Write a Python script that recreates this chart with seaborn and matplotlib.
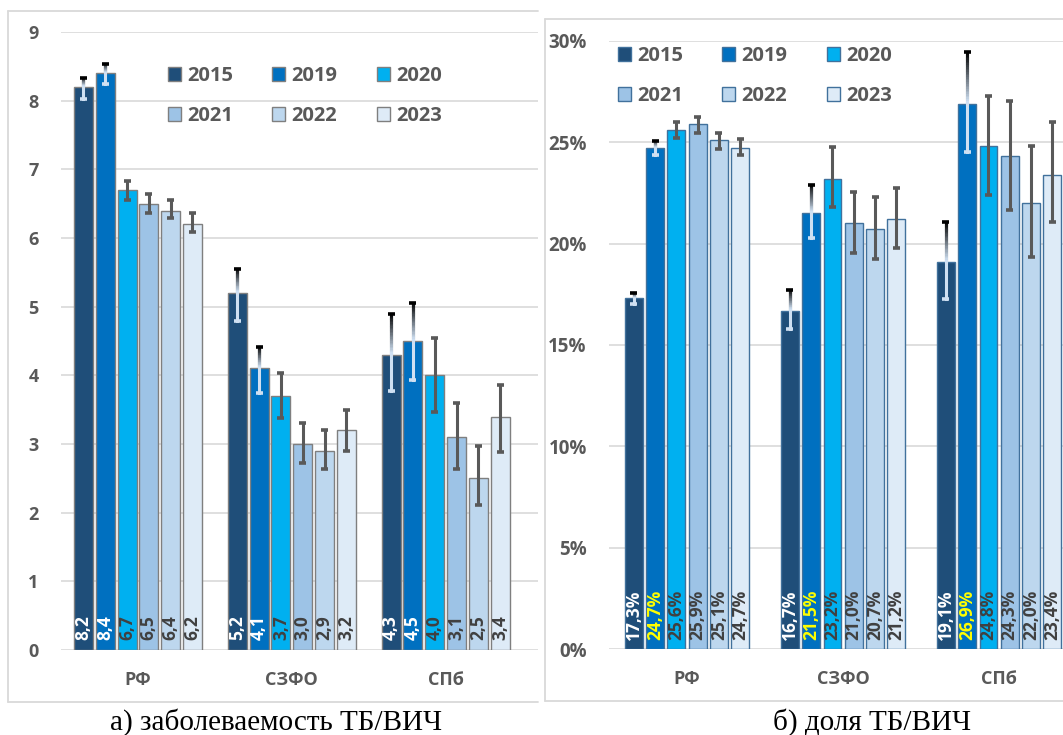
import numpy as np
import pandas as pd
import matplotlib
matplotlib.use("Agg")
import matplotlib.pyplot as plt
import seaborn as sns
from matplotlib import font_manager as fm
from matplotlib.collections import LineCollection
from matplotlib.lines import Line2D
from matplotlib.patches import Patch
from matplotlib.colors import to_rgb

# ---------------- data ----------------
regions = ["РФ", "СЗФО", "СПб"]
years = ["2015", "2019", "2020", "2021", "2022", "2023"]
year_colors = ["#1f4e79", "#0070c0", "#00b0f0", "#9dc3e6", "#bdd7ee", "#deebf7"]

# a) TB/HIV incidence, per 100 000
inc_rf = [8.2, 8.4, 6.7, 6.5, 6.4, 6.2]
inc_szfo = [5.2, 4.1, 3.7, 3.0, 2.9, 3.2]
inc_spb = [4.3, 4.5, 4.0, 3.1, 2.5, 3.4]
inc_lo_rf = [8.03, 8.25, 6.56, 6.37, 6.29, 6.09]
inc_hi_rf = [8.33, 8.54, 6.83, 6.64, 6.56, 6.37]
inc_lo_szfo = [4.79, 3.74, 3.38, 2.72, 2.63, 2.90]
inc_hi_szfo = [5.55, 4.41, 4.04, 3.30, 3.21, 3.49]
inc_lo_spb = [3.77, 3.93, 3.47, 2.63, 2.11, 2.89]
inc_hi_spb = [4.90, 5.06, 4.55, 3.59, 2.97, 3.86]
inc_ticks = [0, 1, 2, 3, 4, 5, 6, 7, 8, 9]

# b) TB/HIV share, %
share_rf = [17.3, 24.7, 25.6, 25.9, 25.1, 24.7]
share_szfo = [16.7, 21.5, 23.2, 21.0, 20.7, 21.2]
share_spb = [19.1, 26.9, 24.8, 24.3, 22.0, 23.4]
share_lo_rf = [17.01, 24.36, 25.18, 25.47, 24.68, 24.36]
share_hi_rf = [17.55, 25.08, 25.97, 26.26, 25.44, 25.15]
share_lo_szfo = [15.81, 20.28, 21.79, 19.53, 19.26, 19.80]
share_hi_szfo = [17.72, 22.90, 24.75, 22.52, 22.29, 22.75]
share_lo_spb = [17.26, 24.50, 22.39, 21.66, 19.36, 21.04]
share_hi_spb = [21.05, 29.42, 27.25, 27.05, 24.82, 25.97]
share_ticks = [0, 5, 10, 15, 20, 25, 30]

W, H = 1063, 735
GRAY = "#595959"


def bold_file():
    # a static (non-variable) bold face file from the preferred sans families
    for fam in ["Open Sans", "Lato", "Noto Sans", "Roboto", "Liberation Sans", "DejaVu Sans"]:
        for f in fm.fontManager.ttflist:
            w = f.weight if isinstance(f.weight, int) else (700 if f.weight == "bold" else 400)
            if (f.name == fam and w == 700 and f.style == "normal"
                    and "[" not in f.fname and "condensed" not in f.fname.lower()):
                return f.fname
    return fm.findfont(fm.FontProperties(family="DejaVu Sans", weight="bold"))


BOLD = bold_file()


def bf(size):
    return fm.FontProperties(fname=BOLD, size=size)


sns.set_theme(style="white")
plt.rcParams["font.family"] = ["DejaVu Sans"]

fig = plt.figure(figsize=(W / 100, H / 100), dpi=100)
fig.patch.set_facecolor("white")


def frame(x0, y0, x1, y1):
    c = "#d9d9d9"
    segs = [((x0, y0), (x1, y0)), ((x0, y0), (x0, y1)), ((x0, y1), (x1, y1))]
    for (a, b), (c2, d) in segs:
        fig.add_artist(Line2D([a / W, c2 / W], [1 - b / H, 1 - d / H],
                              transform=fig.transFigure, color=c, lw=1.3))


def long_table(vals, lows, highs):
    rows = []
    for r, v, lo, hi in zip(regions, vals, lows, highs):
        for y, vv, l, h in zip(years, v, lo, hi):
            rows.append({"region": r, "year": y, "value": vv, "lo": l, "hi": h})
    return pd.DataFrame(rows)


def y_labels(ax, ticks, texts, size):
    ax.set_yticks(ticks)
    ax.set_yticklabels(texts)
    for t in ax.get_yticklabels():
        t.set_fontproperties(bf(size))
        t.set_color(GRAY)


def draw_panel(ax, df, width, gap, edge, label_colors, fmt, px_per_unit, xmax, lsize):
    sns.barplot(data=df, x="region", y="value", hue="year", order=regions,
                hue_order=years, palette=year_colors, saturation=1, width=width,
                gap=gap, errorbar=None, edgecolor=edge, linewidth=1.0,
                legend=False, ax=ax, zorder=2)
    light = np.array(to_rgb("#cfe0f2"))
    dark = np.array(to_rgb("#000000"))
    cap_half = 3.5 / px_per_unit
    for i, cont in enumerate(ax.containers):
        for j, bar in enumerate(cont):
            row = df[(df.year == years[i]) & (df.region == regions[j])].iloc[0]
            cx = bar.get_x() + bar.get_width() / 2
            v, lo, hi = row.value, row.lo, row.hi
            if i < 2:
                n = 30
                ys = np.linspace(hi, v, n + 1)
                segs = [((cx, ys[k]), (cx, ys[k + 1])) for k in range(n)]
                cols = [dark + (light - dark) * (k / (n - 1)) for k in range(n)]
                segs.append(((cx, v), (cx, lo)))
                cols.append(light)
                ax.add_collection(LineCollection(segs, colors=cols, lw=2.2,
                                                 zorder=4, capstyle="projecting"))
                ax.plot([cx - cap_half, cx + cap_half], [hi, hi], color="black",
                        lw=2.6, zorder=4, solid_capstyle="butt")
                ax.plot([cx - cap_half, cx + cap_half], [lo, lo], color=light,
                        lw=2.6, zorder=4, solid_capstyle="butt")
            else:
                ax.plot([cx, cx], [lo, hi], color=GRAY, lw=2.2, zorder=4,
                        solid_capstyle="butt")
                for yy in (lo, hi):
                    ax.plot([cx - cap_half, cx + cap_half], [yy, yy], color=GRAY,
                            lw=2.6, zorder=4, solid_capstyle="butt")
            ax.annotate(fmt(v), xy=(cx, 0), xytext=(0, 7), textcoords="offset points",
                        rotation=90, ha="center", va="bottom", fontproperties=bf(lsize),
                        color=label_colors[i], zorder=5)
    ax.set_xlim(-0.5, xmax)
    ax.set_xlabel("")
    ax.set_ylabel("")
    for s in ax.spines.values():
        s.set_visible(False)
    ax.yaxis.grid(True, color="#d9d9d9", lw=1.2)
    ax.xaxis.grid(False)
    ax.set_axisbelow(True)
    ax.tick_params(length=0, colors=GRAY)
    ax.tick_params(axis="x", pad=15)
    ax.tick_params(axis="y", pad=16)
    ax.set_xticks(range(len(regions)))
    ax.set_xticklabels(regions)
    for t in ax.get_xticklabels():
        t.set_fontproperties(bf(13))
        t.set_color(GRAY)


def legend(ax, x_px, y_px, size, edge):
    handles = [Patch(facecolor=c, edgecolor=edge, lw=1.0) for c in year_colors]
    order = [0, 3, 1, 4, 2, 5]
    leg = ax.legend([handles[k] for k in order], [years[k] for k in order], ncol=3,
                    loc="upper left", bbox_to_anchor=(x_px / W, 1 - y_px / H),
                    bbox_transform=fig.transFigure, frameon=False, borderpad=0,
                    borderaxespad=0, handlelength=0.65, handleheight=0.65,
                    handletextpad=0.3, columnspacing=1.95, labelspacing=1.0,
                    prop=bf(size))
    for t in leg.get_texts():
        t.set_color(GRAY)


# ---------------- panel а ----------------
frame(8, 11, 538, 702)
ax1 = fig.add_axes([61 / W, 85 / H, (538 - 61) / W, 618 / H])
df1 = long_table([inc_rf, inc_szfo, inc_spb],
                 [inc_lo_rf, inc_lo_szfo, inc_lo_spb],
                 [inc_hi_rf, inc_hi_szfo, inc_hi_spb])
draw_panel(ax1, df1, 0.85, 0.13, "#7f7f7f",
           ["white", "white", "#404040", "#404040", "#404040", "#404040"],
           lambda v: f"{v:.1f}".replace(".", ","), 154, 2.6, 12.5)
ax1.set_ylim(0, 9)
y_labels(ax1, inc_ticks, [str(t) for t in inc_ticks], 13)
legend(ax1, 168, 66, 14.5, "#7f7f7f")

# ---------------- panel б ----------------
fig.add_artist(plt.Rectangle((545 / W, 1 - 701 / H), (W - 545) / W, (701 - 19) / H,
                             transform=fig.transFigure, facecolor="white",
                             edgecolor="none", zorder=0))
frame(545, 19, W + 5, 701)
ax2 = fig.add_axes([609 / W, (H - 649.3) / H, (W - 609) / W, (649.3 - 40.7) / H])
df2 = long_table([share_rf, share_szfo, share_spb],
                 [share_lo_rf, share_lo_szfo, share_lo_spb],
                 [share_hi_rf, share_hi_szfo, share_hi_spb])
draw_panel(ax2, df2, 0.82, 0.17, "#41719c",
           ["white", "#ffff00", "#404040", "#404040", "#404040", "#404040"],
           lambda v: f"{v:.1f}%".replace(".", ","), 156, 2.41, 12.5)
ax2.set_ylim(0, 30)
y_labels(ax2, share_ticks, [f"{t}%" for t in share_ticks], 13.5)
legend(ax2, 618, 46, 14.5, "#41719c")

# ---------------- captions ----------------
fig.text(276 / W, 1 - 722 / H, "а) заболеваемость ТБ/ВИЧ", family="Liberation Serif",
         fontweight="normal", size=21, ha="center", va="center", color="black")
fig.text(872 / W, 1 - 722 / H, "б) доля ТБ/ВИЧ", family="Liberation Serif",
         fontweight="normal", size=21, ha="center", va="center", color="black")

fig.savefig("out.png", dpi=100, facecolor="white")
